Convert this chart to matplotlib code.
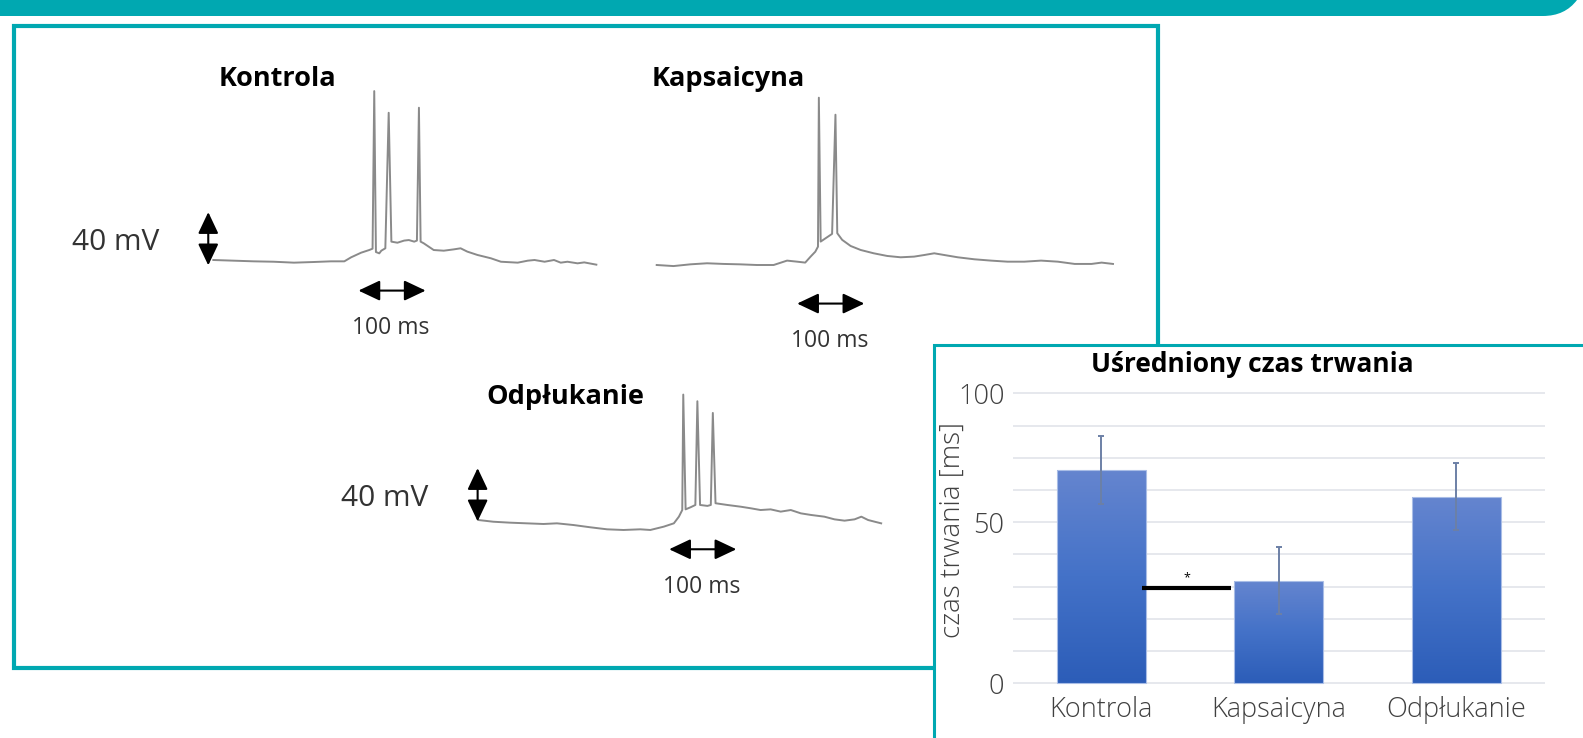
import numpy as np
import matplotlib.pyplot as plt
from matplotlib.patches import Rectangle, PathPatch
from matplotlib.path import Path
from matplotlib.colors import LinearSegmentedColormap

plt.rcParams['font.family'] = ['Open Sans', 'DejaVu Sans']

# --- recorded traces (time in ms, membrane potential in mV, baseline = 0) ---
kontrola_t = [0, 30, 60, 90, 120, 150, 175, 195, 205, 220, 232, 237, 239.5, 242, 247, 250,
              256, 261, 265, 274, 284, 291, 299, 303, 306, 308.5, 313, 328, 343, 358, 368,
              378, 393, 413, 428, 453, 468, 478, 493, 507, 517, 527, 542, 552, 570]
kontrola_v = [0, -0.5, -1, -1.3, -2, -1.5, -1, -1, 2, 5.5, 7.5, 8.5, 127, 6, 5, 7,
              8.8, 110.7, 13.8, 13, 14.6, 15, 13.8, 14.6, 114.5, 13.8, 12.6, 7.5, 7, 8, 8.8,
              6.3, 3.8, 1.3, -1.3, -2, -0.5, 0, -1.3, 0, -2, -1.3, -2.5, -1.8, -3.5]

kapsaicyna_t = [0, 25, 50, 75, 99.5, 124, 149, 174, 194, 209, 221, 229, 236, 240, 241.3, 244,
                251, 261, 266, 268.7, 276, 288.6, 303.5, 323, 343, 363, 383, 398, 413, 428,
                448, 472.6, 497.5, 522, 547, 572, 597, 622, 647, 662, 679]
kapsaicyna_v = [0, -0.8, 0.5, 1.3, 0.8, 0.5, 0, 0, 3.3, 2.5, 1.8, 6.3, 10, 13.8, 125.8, 17.6,
                20, 23.4, 113, 23.9, 18.9, 14.3, 11.3, 8.8, 6.8, 5.8, 6.3, 7.5, 8.8, 7.5,
                5.8, 4.3, 3.3, 2.5, 2.5, 3.3, 2.5, 0.8, 0.8, 1.8, 0.8]

odplukanie_t = [0, 22.4, 47, 72, 97, 117, 142, 167, 191.5, 216, 241, 256, 276, 291, 298.5,
                303.5, 305, 308.5, 316, 323, 326, 330, 341, 346, 349, 353, 370.6, 390.5,
                405.5, 420, 435, 450, 465, 480, 495, 515, 530, 545, 560, 570, 580, 590, 599.5]
odplukanie_v = [0, -1.3, -2, -2.5, -3, -2.5, -3.8, -5.5, -7, -7.5, -7, -7.5, -5, -2.5, 2.5,
                7.5, 94.3, 8, 9.6, 11.3, 89.3, 11.3, 10.6, 11.3, 80.5, 12.6, 11.3, 10,
                8.8, 7.5, 8, 6.3, 7.5, 5, 3.8, 2.5, 0.5, -0.5, 0.5, 2.5, 0, -1.3, -2.5]

# scale bars: (start ms, end ms, mV level) and (ms position, mV from, mV to)
time_bars = {'Kontrola': (216, 316, -23), 'Kapsaicyna': (209, 309, -29), 'Odpłukanie': (284, 384, -22)}
volt_bars = {'Kontrola': (-7.5, -4, 36), 'Odpłukanie': (-1, -1, 39)}

# --- bar chart data ---
categories = ['Kontrola', 'Kapsaicyna', 'Odpłukanie']
durations = [66.2, 31.8, 57.9]
errors = [10.4, 10.4, 10.4]
y_ticks = [0, 10, 20, 30, 40, 50, 60, 70, 80, 90]
y_ticklabels = ['0', '', '', '', '', '50', '', '', '', '100']
sig_x = [0.23, 0.73]
sig_y = 29.6

TEAL = '#00a8b1'
W, H = 1583, 738
fig = plt.figure(figsize=(W / 100, H / 100), dpi=100)


def px_rect(x0, y0, x1, y1):
    return [x0 / W, 1 - y1 / H, (x1 - x0) / W, (y1 - y0) / H]


def fx(x):
    return x / W


def fy(y):
    return 1 - y / H


# top banner with rounded right end
verts = [(fx(0), fy(0)), (fx(1577), fy(0)), (fx(1565), fy(16)), (fx(1543), fy(16)),
         (fx(0), fy(16)), (fx(0), fy(0))]
codes = [Path.MOVETO, Path.LINETO, Path.CURVE3, Path.CURVE3, Path.LINETO, Path.CLOSEPOLY]
fig.add_artist(PathPatch(Path(verts, codes), transform=fig.transFigure,
                         facecolor=TEAL, edgecolor='none', zorder=1))

# left panel frame
fig.add_artist(Rectangle((fx(14), fy(667.5)), fx(1158 - 14), (667.5 - 26) / H,
                         transform=fig.transFigure, fill=False, ec=TEAL, lw=3, zorder=1))

SX = 0.672  # px per ms
SY = 1.33   # px per mV


def trace_axes(x0, y0, xlim, ylim):
    left = x0 + xlim[0] * SX
    right = x0 + xlim[1] * SX
    top = y0 - ylim[1] * SY
    bottom = y0 - ylim[0] * SY
    ax = fig.add_axes(px_rect(left, top, right, bottom), zorder=2)
    ax.set_xlim(xlim)
    ax.set_ylim(ylim)
    ax.axis('off')
    return ax


def arrow(ax, p0, p1):
    ax.annotate('', xy=p1, xytext=p0,
                arrowprops=dict(arrowstyle='<|-|>,head_length=0.55,head_width=0.26',
                                color='black', lw=1.5, mutation_scale=24,
                                shrinkA=0, shrinkB=0), annotation_clip=False)


traces = [('Kontrola', kontrola_t, kontrola_v, (213.3, 260), (-20, 590), (-30, 135)),
          ('Kapsaicyna', kapsaicyna_t, kapsaicyna_v, (656.7, 265), (-10, 690), (-35, 135)),
          ('Odpłukanie', odplukanie_t, odplukanie_v, (478.3, 520), (-10, 610), (-30, 100))]

for name, t, v, origin, xl, yl in traces:
    ax = trace_axes(origin[0], origin[1], xl, yl)
    ax.plot(t, v, color='#8a8a8a', lw=1.4)
    t0, t1, lev = time_bars[name]
    arrow(ax, (t0, lev), (t1, lev))
    ax.annotate('100 ms', xy=((t0 + t1) / 2, lev), xytext=(-1, -27), textcoords='offset points',
                ha='center', va='center', fontsize=16.5, color='#333333')
    if name in volt_bars:
        tv, va0, va1 = volt_bars[name]
        arrow(ax, (tv, va0), (tv, va1))
        ax.annotate('40 mV', xy=(tv, (va0 + va1) / 2), xytext=(-67, -2.5),
                    textcoords='offset points', ha='center', va='center',
                    fontsize=21.5, color='#333333')

for label, px, py in [('Kontrola', 277, 79), ('Kapsaicyna', 728, 79), ('Odpłukanie', 565, 397)]:
    fig.text(fx(px), fy(py), label, ha='center', va='center', fontsize=19.5,
             fontweight='bold', color='black', zorder=5)

# bar chart panel (drawn over the left frame)
fig.add_artist(Rectangle((fx(934), fy(760)), fx(1700 - 934), (760 - 345) / H,
                         transform=fig.transFigure, facecolor='white', ec=TEAL, lw=2.2, zorder=3))

ax = fig.add_axes(px_rect(1012.7, 390.1, 1545, 686.5), zorder=4)
ax.set_facecolor('none')
x = np.arange(len(categories))
bars = ax.bar(x, durations, width=0.5, facecolor='none', edgecolor='#a9bde6', lw=0.8, zorder=3)
cmap = LinearSegmentedColormap.from_list('office', ['#2c5db8', '#4472c8', '#6585cf'])
grad = np.linspace(0, 1, 256).reshape(-1, 1)
for b in bars:
    im = ax.imshow(grad, extent=[b.get_x(), b.get_x() + b.get_width(), 0, b.get_height()],
                   origin='lower', aspect='auto', cmap=cmap, zorder=2)
    im.set_clip_path(b)
ax.errorbar(x, durations, yerr=errors, fmt='none', ecolor='#6c80a6', elinewidth=1.4,
            capsize=2.5, capthick=1.4, zorder=5)
ax.plot(sig_x, [sig_y, sig_y], color='black', lw=3, solid_capstyle='butt', zorder=6)
ax.text(np.mean(sig_x), sig_y + 3.2, '*', ha='center', va='center', fontsize=9, zorder=6)

ax.set_xlim(-0.5, 2.5)
ax.set_ylim(-1, 91)
ax.set_yticks(y_ticks)
ax.set_yticklabels(y_ticklabels)
ax.set_xticks(x)
ax.set_xticklabels(categories)
ax.grid(axis='y', color='#e1e4ea', lw=1.2, zorder=0)
ax.set_axisbelow(True)
for s in ax.spines.values():
    s.set_visible(False)
ax.tick_params(axis='both', length=0, labelsize=19.5, labelcolor='#404040')
ax.tick_params(axis='y', pad=6)
ax.tick_params(axis='x', pad=7)
for lab in ax.get_xticklabels() + ax.get_yticklabels():
    lab.set_fontweight('light')

fig.text(fx(953), fy(530), 'czas trwania [ms]', rotation=90, ha='center', va='center',
         fontsize=20, color='#404040', fontweight='light', zorder=6)
fig.text(fx(1252), fy(364), 'Uśredniony czas trwania', ha='center', va='center',
         fontsize=19, fontweight='bold', color='black', zorder=6)

fig.savefig('out.png', dpi=100)
